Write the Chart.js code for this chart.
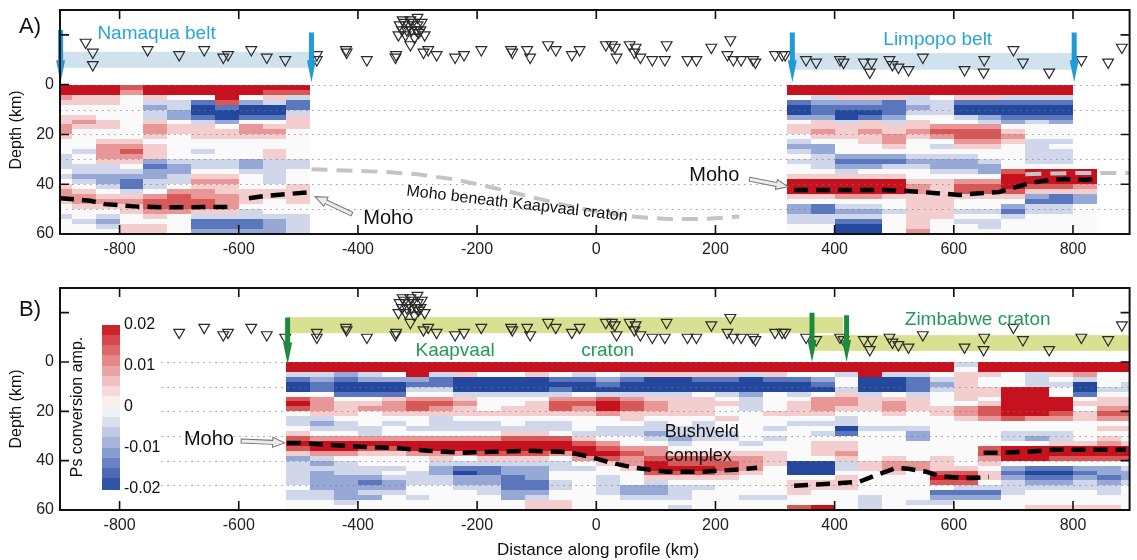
<!DOCTYPE html>
<html>
<head>
<meta charset="utf-8">
<script src="https://cdn.jsdelivr.net/npm/chart.js@4.4.1/dist/chart.umd.min.js"></script>
<style>
  body { margin: 0; background: #fff; }
  #wrap { position: relative; width: 1137px; height: 560px; }
  .panel { position: absolute; left: 0; }
</style>
</head>
<body>
<div id="wrap">
  <div class="panel" style="top:0"><canvas id="panelA" width="1137" height="266"></canvas></div>
  <div class="panel" style="top:270px"><canvas id="panelB" width="1137" height="290"></canvas></div>
</div>
<script>
const FONT = "'Liberation Sans', Arial, Helvetica, sans-serif";

const xTicks = [-800, -600, -400, -200, 0, 200, 400, 600, 800];
const yTicks = [-20, 0, 20, 40, 60];
const yLabels = [0, 20, 40, 60];
const dottedDepths = [0, 10, 20, 30, 40, 50];

const rowKm = 2;         // thickness of one depth bin (km)
const ampStep = 0.005;   // one level in the grids = 0.005 Ps amplitude

// station positions (km along profile) and where the symbol sits above the surface
const stationKm = [
  -857, -845, -845, -753, -700, -658, -626, -618, -579, -553, -522, -469, -469, -420, -419, -385, -337, -336,
  -330, -322, -315, -308, -300, -293, -326, -318, -310, -302, -295, -332, -320, -305, -298, -288, -312, -300, -325,
  -312, -290, -282, -268, -237, -222, -193, -143, -141, -116, -111, -81, -68, -41, -28,
  16, 26, 31, 34, 56, 66, 64, 74, 94, 118, 115, 153, 168, 193, 225, 220, 230, 243, 263, 267,
  300, 312, 317, 352, 369, 409, 415, 449, 462, 459, 492, 497, 507, 524, 548, 618, 651, 650, 700, 716, 760, 814, 859, 882];
const stationDepth = [
  -17, -13, -8, -14, -12, -14, -11, -12, -14, -11, -10, -12, -10, -14, -13, -10, -11, -12,
  -24, -25, -24, -25, -24, -25, -22, -22, -22, -22, -22, -20, -20, -19, -21, -20, -26, -27, -26,
  -16, -13, -14, -12, -11, -12, -14, -14, -13, -14, -11, -16, -14, -12, -14,
  -16, -16, -15, -11, -16, -15, -13, -11, -10, -16, -10, -10, -10, -15, -18, -12, -10, -10, -10, -9,
  -12, -12, -12, -10, -9, -10, -9, -9, -9, -5, -10, -8, -7, -6, -11, -6, -10, -5, -14, -9, -5, -10, -9, -15];

// A) Namaqua belt image, bin edges in km, rows every 2 km from the surface
const binsA_west = [-900, -880, -840, -800, -760, -720, -680, -640, -600, -560, -520, -480];
const ampA_west = [
  [4, 4, 4, 3, 4, 4, 4, 4, 4, 4, 4],
  [4, 4, 4, 2, 4, 4, 4, 4, 4, 3, 3],
  [2, 1, 1, 0, 1, 0, 0, 4, 0, 1, -1],
  [1, 1, 1, 0, -1, -1, -3, 3, -2, -1, -3],
  [0, 0, 0, 0, -2, -1, -4, -3, -4, -4, -3],
  [0, 0, 0, 0, -1, -2, -4, -4, -4, -4, -1],
  [1, 1, 0, 0, -1, -2, -3, -4, -3, -3, 1],
  [1, 2, 1, 0, 1, 0, -1, -2, 0, 0, 1],
  [2, 1, 1, 0, 2, 1, 1, 0, 2, 1, 1],
  [2, 0, 0, 0, 2, 1, 1, 1, 2, 2, 0],
  [1, 0, 0, 0, 1, 0, 1, 1, 1, 1, 0],
  [0, 0, 1, 1, 0, 0, 0, 0, 0, 0, 0],
  [0, 0, 2, 2, 1, 0, 0, 0, 0, 0, 0],
  [0, -1, 2, 3, 1, 0, -1, 0, 0, 1, 0],
  [-1, 0, 2, 2, 1, 0, 0, 0, 0, 1, 0],
  [-1, 0, 1, 1, -2, -1, -1, -1, -2, -1, -1],
  [-1, -1, -1, 0, -3, -2, -1, -1, -2, -1, -1],
  [0, -1, -1, -1, -2, -2, 0, 0, -1, -1, 0],
  [-1, -2, -2, -2, -2, -1, 1, 1, 0, -1, 0],
  [0, -1, -2, -3, -1, -1, 2, 2, 0, -1, 0],
  [1, 0, -1, -3, -1, 0, 1, 1, 0, 0, 1],
  [2, 1, 0, -1, 0, 2, 2, 1, 1, 1, 1],
  [2, 2, 1, 1, 2, 3, 2, 2, 1, 1, 1],
  [1, 2, 2, 2, 3, 3, 3, 2, 1, 0, 1],
  [0, 1, 1, 1, 3, 3, 3, 2, 0, 0, 0],
  [0, 0, 0, 1, 2, 2, 1, 1, -1, 0, 0],
  [-1, 0, -1, 0, 1, 0, -1, -1, -1, -1, -1],
  [0, -1, -2, 0, 0, 0, -3, -3, -3, -2, -1],
  [0, 0, -1, 1, 1, 0, -3, -3, -3, -2, -1],
  [0, 0, 0, 1, 1, 0, -2, -2, -2, -2, -1]];

// A) Limpopo belt image
const binsA_east = [320, 360, 400, 440, 480, 520, 560, 600, 640, 680, 720, 760, 800, 840];
const ampA_east = [
  [4, 4, 4, 4, 4, 4, 4, 4, 4, 4, 4, 4, null],
  [4, 4, 4, 4, 4, 4, 4, 4, 4, 4, 4, 4, null],
  [0, -1, 1, 1, 1, -1, 0, 1, 1, -1, -1, -1, null],
  [-3, -2, -2, -2, -3, -1, -1, -3, -3, -3, -3, -3, null],
  [-4, -3, -3, -3, -3, -2, -1, -4, -4, -4, -4, -4, null],
  [-4, -3, -4, -4, -3, -1, -1, -4, -4, -4, -4, -4, null],
  [-2, -2, -4, -3, -2, 0, 0, -1, -2, -3, -3, -3, null],
  [0, 1, -1, 1, -1, 1, 0, 0, -1, -2, -1, -2, null],
  [1, 1, 1, 1, 1, 1, 2, 2, 2, 0, 0, 0, null],
  [1, 2, 1, 2, 1, 2, 3, 3, 3, 1, 0, 0, null],
  [0, 1, 1, 1, 2, 1, 2, 3, 3, 2, 0, 0, null],
  [-1, 0, 0, 1, 2, 0, 0, 2, 2, 1, -1, -1, null],
  [-2, -2, 0, 0, 1, 0, -1, 1, 1, 0, -1, 0, null],
  [-1, -2, 0, 0, 0, 0, 0, 0, 0, 0, -1, -1, null],
  [0, -1, -2, -2, -2, -1, -1, -1, 0, 0, -1, -1, null],
  [-1, -1, -3, -3, -3, -2, -2, -2, -1, 0, -1, -1, null],
  [0, -1, -2, -2, -1, -1, -2, -2, -2, 0, 0, 0, null],
  [0, 0, -1, 0, 0, 0, -1, -1, -2, 3, 4, 4, 4],
  [1, 1, 1, 1, 1, 0, 0, 0, 0, 4, 4, 4, 4],
  [4, 4, 4, 4, 4, 1, 1, 2, 2, 4, 4, 4, 4],
  [4, 4, 4, 4, 4, 2, 1, 3, 3, 4, 3, 3, 2],
  [4, 4, 4, 4, 4, 2, 1, 3, 3, 3, 1, 1, 1],
  [1, 1, 2, 2, 1, 1, 1, 1, 1, 1, -2, -3, -2],
  [0, 0, 0, 0, 0, 1, 1, 0, 0, 0, -3, -3, -2],
  [-2, -3, -1, -1, 0, 1, 1, 0, 0, -2, -1, -1, 0],
  [-2, -3, -2, -2, -1, 1, 1, -1, -1, -3, -1, -1, 0],
  [-1, -1, -1, -1, 0, 1, 1, 0, 0, -1, 0, 0, 0],
  [-1, -1, -3, -3, 0, 1, 0, -1, -1, 0, 0, 0, 0],
  [0, 0, -4, -4, 0, 1, 0, 0, -1, 0, 0, 0, 0],
  [0, 0, -4, -4, 0, 2, 0, 0, 0, 0, 0, 0, 0]];

// B) Kaapvaal - Zimbabwe image
const binsB = [-520, -480, -440, -400, -360, -320, -280, -240, -200, -160, -120, -80, -40, 0, 40, 80, 120, 160,
  200, 240, 280, 320, 360, 400, 440, 480, 520, 560, 600, 640, 680, 720, 760, 800, 840, 880, 895];
const ampB = [
  [4, 4, 4, 4, 4, 4, 4, 4, 4, 4, 4, 4, 4, 4, 4, 4, 4, 4, 4, 4, 4, 4, 4, 4, 4, 4, 4, 4, -1, 4, 4, 4, 4, 4, 4, 4],
  [4, 4, 4, 4, 4, 4, 4, 4, 4, 4, 4, 4, 4, 4, 4, 4, 4, 4, 4, 4, 4, 4, 4, 4, 4, 4, 4, 4, 0, 4, 4, 4, 4, 4, 4, 4],
  [-1, -1, -2, -1, 0, 4, -1, 1, 0, 0, 1, 0, -1, 0, -1, 1, 1, 1, 1, -1, 1, 0, 0, -1, 4, -1, -1, 0, 1, 1, 0, -1, 1, 2, 0, 0],
  [-3, -2, -3, -2, -2, -2, -3, -4, -4, -4, -4, -3, -3, -2, -3, -4, -4, -3, -3, -4, -3, -3, -2, 0, -4, -4, -3, -1, 1, 0, 0, -1, 0, -1, 0, 0],
  [-4, -3, -4, -4, -4, -3, -3, -4, -4, -4, -4, -4, -4, -3, -4, -4, -4, -4, -4, -4, -4, -4, -3, 0, -4, -4, -3, -2, 1, 0, 0, -1, -1, -4, 0, -1],
  [-4, -3, -4, -4, -4, -1, -1, -4, -4, -4, -4, -3, -4, -4, -4, -4, -4, -4, -4, -4, -4, -4, -4, -1, -4, -4, -3, -1, 1, 1, 4, 4, 0, -4, -1, -1],
  [0, 0, -3, -3, -3, 0, 0, -1, -1, -1, -1, -1, 0, -1, -1, -1, -1, 0, -1, -2, 0, -1, 0, 1, -1, 0, -1, 0, 1, 1, 4, 4, 0, -3, 0, 0],
  [3, 2, 0, 0, 1, 2, 2, 1, 0, 0, 0, 2, 2, 3, 2, 1, 1, 1, 0, -1, 0, 0, 2, 2, 1, 1, 1, 0, 1, 0, 4, 4, 4, 0, 1, 1],
  [4, 2, 1, 1, 2, 3, 3, 2, 0, 0, 1, 3, 3, 4, 3, 2, 1, 1, 1, -1, 0, 1, 2, 2, 1, 2, 1, 0, 0, 1, 4, 4, 4, 1, 1, 1],
  [3, 2, 1, 2, 2, 3, 2, 1, 0, 1, 1, 3, 2, 4, 3, 2, 1, 1, 0, -1, 0, 1, 2, 1, 1, 2, 1, 1, 2, 3, 4, 4, 4, 0, 2, 2],
  [0, 1, 1, 0, 1, 1, 1, 1, 1, 1, 1, 1, 1, 2, 1, 1, 1, 1, 0, 0, 1, 1, 1, 0, 0, 1, 0, 1, 2, 3, 4, 4, 3, 1, 3, 3],
  [-1, -1, 0, 0, 0, 0, -1, 0, 0, 0, 0, 0, 0, 0, 1, 0, 0, 0, 1, 0, 0, 0, 0, -1, 0, 0, 0, 0, 1, 2, 3, 2, 2, 1, 2, 2],
  [-1, -2, -1, 0, -1, 0, -1, -1, -1, 0, -1, -1, 0, 0, 0, -1, 0, -1, 0, 0, 0, -1, -1, -1, 0, 0, 0, 0, 0, 0, 0, 0, 0, 0, 0, 0],
  [0, -1, -1, -1, 0, -1, -1, -1, -1, -1, -1, -1, 0, -1, -1, -1, -1, -1, 0, 0, -1, 0, 0, -4, -1, -1, -1, 0, 0, 0, 0, 0, 0, 0, 1, 1],
  [1, 0, 0, -1, 0, 0, 0, 0, 0, 1, 1, 0, -1, -1, -1, -2, -1, -1, -1, 0, 0, 0, -1, -3, 0, 0, -2, 0, 0, 0, -1, -1, -1, 0, 0, 0],
  [3, 2, 2, 2, 2, 2, 2, 2, 2, 3, 3, 3, 1, 0, 0, -1, -2, -1, -1, 0, -1, 0, 0, 0, 0, 0, -2, 0, 0, 0, -1, -2, -1, 0, 1, 0],
  [4, 4, 4, 4, 4, 4, 4, 4, 4, 4, 4, 4, 3, 2, 0, 0, -1, 0, 0, -1, 0, 0, 1, 1, 0, 0, 0, 0, 0, 0, 0, 0, 1, 1, 2, 1],
  [3, 4, 4, 3, 3, 4, 4, 4, 4, 4, 4, 4, 4, 3, 2, 2, 0, 0, 0, 0, 0, 0, 1, 1, 0, 0, 0, 0, 0, 3, 4, 4, 4, 4, 4, 4],
  [1, 2, 2, 1, 1, 2, 2, 2, 3, 3, 3, 2, 4, 4, 3, 2, 1, 1, 1, 1, 1, 0, 1, 2, 0, 0, 0, 0, 0, 3, 4, 4, 4, 4, 4, 4],
  [-2, -1, 0, 0, 0, 0, 1, 0, 1, 1, 1, 0, 2, 3, 2, 3, 3, 3, 2, 2, 1, 0, 0, 1, 0, 1, 0, 1, 0, 2, 4, 4, 3, 3, 3, 3],
  [-1, -2, -1, 0, 0, 0, -1, -1, -1, -1, -1, -1, 0, 1, 2, 4, 3, 3, 3, 2, 1, -4, -4, -1, 1, 2, 2, 1, 0, 1, 0, 0, 0, 0, 0, 0],
  [-1, -1, -1, -1, -1, 0, -2, -3, -3, -2, -2, -1, -1, 0, 1, 4, 4, 4, 3, 2, 0, -4, -4, -1, 1, 2, 2, 1, 1, 0, -2, -3, -3, -2, -2, -1],
  [-1, -2, -1, -1, 0, -1, -2, -4, -3, -2, -2, 0, 0, 0, 0, 3, 3, 3, 2, 1, 0, -4, -4, 0, 0, 1, 0, 3, 3, 1, -3, -4, -4, -3, -2, -2],
  [-1, -2, -2, -2, -1, -1, -1, -2, -2, -3, -2, 0, 0, -1, 0, 1, 1, 1, 1, 0, 0, 0, 0, 1, 0, 0, 0, 4, 4, 1, -2, -3, -3, -2, -3, -2],
  [-1, -2, -2, -3, -2, -1, -1, -2, -2, -3, -3, -1, 0, -1, 0, -1, 0, 0, 0, 0, 0, 1, 1, 1, 0, 0, 0, 3, 3, 0, -1, -2, -2, -1, -2, -1],
  [0, -2, -2, -2, -2, 0, 0, -1, -1, -3, -3, -1, 0, -1, -2, -2, -1, -1, 0, 0, 0, 1, 1, 1, 0, 0, 0, 0, -1, -1, -1, -1, -1, -1, -1, 0],
  [-1, -1, -2, -1, -1, 0, 0, 0, -1, -2, -2, 0, 0, -1, -2, -2, -1, 0, 0, 0, 0, 1, 0, 0, 0, 0, 0, -3, -3, -3, -1, 0, 0, 0, -1, 0],
  [-1, -1, -2, -2, 0, -1, 0, 0, 0, -2, -1, 0, 0, 0, -1, -1, -1, 0, 0, -1, -1, 0, 0, 0, -1, 0, 0, -2, -2, -2, 0, 0, 0, 0, 0, 0],
  [0, 0, -1, 0, 0, 0, 0, 0, 0, 0, 1, 1, 0, 0, 0, 0, 0, 0, 0, 0, 0, 0, 0, 0, -1, 0, -1, -1, 0, 0, 0, 0, 0, 0, 0, 0],
  [0, 0, 0, 0, 0, 0, 0, 0, 0, 0, 1, 1, 0, 0, 0, 0, -1, 0, 0, 0, 0, 3, 4, 0, -1, 0, 0, 0, 0, 0, 0, 1, 1, 1, 1, 0]];

// picked Moho (null splits the line)
const mohoA_km    = [-900, -850, -825, -770, -713, -658, -611, null, -583, -551, -516, -479,
                     null, 332, 371, 426, 483, 521, 566, 610, 650, 676, 700, 727, 760, 788, 822, 838];
const mohoA_depth = [45.6, 46.6, 48.0, 49.0, 49.3, 49.2, 49.1, null, 45.6, 44.6, 43.9, 43.2,
                     null, 42.3, 42.3, 42.3, 42.3, 42.7, 43.5, 44.3, 43.5, 43.1, 41.5, 39.5, 38.3, 37.9, 38.3, 37.9];
const kaapvaalMohoKm    = [-478, -420, -360, -300, -240, -180, -120, -60, 0, 60, 120, 180, 240, null, 720, 800, 895];
const kaapvaalMohoDepth = [34, 34.5, 35, 36, 38, 41, 44.5, 48, 51, 53, 54, 54, 53, null, 36, 35.5, 35.5];
const mohoB_km    = [-519, -494, -449, -394, -337, -282, -226, -170, -115, -59, -43, -9, 19, 64, 120, 175, 232, 270,
                     null, 332, 359, 416, 441, 471, 504, 524, 554, 576, 609, 632, 659,
                     null, 650, 677, 722, 767, 822, 889];
const mohoB_depth = [32.8, 32.8, 33.6, 34.4, 34.8, 36, 36.8, 36.4, 36, 36.4, 36.8, 38.5, 40.5, 42.9, 44.5, 44.5, 43.7, 42.9,
                     null, 50.2, 49.8, 49, 48.6, 45.7, 42.9, 43.3, 44.5, 46.2, 47, 47, 46.6,
                     null, 36.8, 36.8, 36.4, 35.6, 35.6, 35.6];

// belt / craton margins: arrow km, top and tip depth
const beltArrowsA = [[-899, -22, -1], [-478, -21, -1], [329, -21, -1], [802, -21, -1]];
const cratonArrowsB = [[-518, -18, 1], [362, -20, 0], [420, -19, 0]];
// shaded station rows: km from, km to, depth from, depth to
const bandsA = [[-900, -478, -13.2, -6.8], [330, 800, -12.7, -6]];
const bandsB = [[-518, 414, -18.2, -11.7], [365, 895, -10.9, -4.5]];

const colorbarTicks = [0.02, 0.01, 0, -0.01, -0.02];

const RED_STOPS  = [[250, 250, 250], [244, 206, 206], [232, 150, 150], [216, 88, 88], [198, 18, 30]];
const BLUE_STOPS = [[250, 250, 250], [208, 215, 235], [150, 168, 213], [90, 118, 188], [36, 72, 158]];

function ampColor(a) {
  const t = Math.max(-1, Math.min(1, a / 0.02));
  const stops = t >= 0 ? RED_STOPS : BLUE_STOPS;
  const f = Math.abs(t) * 4;
  const i = Math.min(3, Math.floor(f));
  const w = f - i;
  const c = stops[i].map((v, k) => Math.round(v + (stops[i + 1][k] - v) * w));
  return 'rgb(' + c.join(',') + ')';
}

function drawGrid(chart, edges, grid) {
  const { ctx, scales: { x, y } } = chart;
  grid.forEach((row, r) => {
    const y0 = Math.round(y.getPixelForValue(r * rowKm));
    const y1 = Math.round(y.getPixelForValue((r + 1) * rowKm));
    row.forEach((v, c) => {
      if (v === null) return;
      const x0 = Math.round(x.getPixelForValue(edges[c]));
      const x1 = Math.round(x.getPixelForValue(edges[c + 1]));
      ctx.fillStyle = ampColor(v * ampStep);
      ctx.fillRect(x0, y0, x1 - x0, y1 - y0);
    });
  });
}

function drawDownArrow(ctx, x, yTop, yTip, color) {
  const shaftW = 5, headW = 9, headL = 22;
  ctx.fillStyle = color;
  ctx.beginPath();
  ctx.moveTo(x - shaftW / 2, yTop);
  ctx.lineTo(x + shaftW / 2, yTop);
  ctx.lineTo(x + shaftW / 2, yTip - headL);
  ctx.lineTo(x + headW / 2, yTip - headL);
  ctx.lineTo(x, yTip);
  ctx.lineTo(x - headW / 2, yTip - headL);
  ctx.lineTo(x - shaftW / 2, yTip - headL);
  ctx.closePath();
  ctx.fill();
}

// thin hollow grey arrow from a label to the Moho
function drawPointer(ctx, x0, y0, x1, y1) {
  const ang = Math.atan2(y1 - y0, x1 - x0);
  const len = Math.hypot(x1 - x0, y1 - y0);
  const hw = 2, headW = 5, headL = 12;
  ctx.save();
  ctx.translate(x0, y0);
  ctx.rotate(ang);
  ctx.beginPath();
  ctx.moveTo(0, -hw);
  ctx.lineTo(len - headL, -hw);
  ctx.lineTo(len - headL, -headW);
  ctx.lineTo(len, 0);
  ctx.lineTo(len - headL, headW);
  ctx.lineTo(len - headL, hw);
  ctx.lineTo(0, hw);
  ctx.closePath();
  ctx.fillStyle = '#ececec';
  ctx.fill();
  ctx.strokeStyle = '#777';
  ctx.lineWidth = 1;
  ctx.stroke();
  ctx.restore();
}

function text(ctx, str, x, y, size, color, align, rot) {
  ctx.save();
  ctx.translate(x, y);
  if (rot) ctx.rotate(rot);
  ctx.font = size + 'px ' + FONT;
  ctx.fillStyle = color;
  ctx.textAlign = align || 'center';
  ctx.textBaseline = 'middle';
  ctx.fillText(str, 0, 0);
  ctx.restore();
}

function toPoints(km, depth) {
  return km.map((k, i) => ({ x: k, y: depth[i] }));
}

function panelPlugin(cfg) {
  return {
    id: 'panel' + cfg.name,
    beforeDatasetsDraw(chart) {
      const { ctx, chartArea: a, scales: { x, y } } = chart;
      ctx.save();
      ctx.beginPath();
      ctx.rect(a.left, a.top, a.right - a.left, a.bottom - a.top);
      ctx.clip();
      cfg.bands.forEach(([k0, k1, d0, d1]) => {
        ctx.fillStyle = cfg.bandColor;
        ctx.fillRect(x.getPixelForValue(k0), y.getPixelForValue(d0),
          x.getPixelForValue(k1) - x.getPixelForValue(k0), y.getPixelForValue(d1) - y.getPixelForValue(d0));
      });
      cfg.grids.forEach(([edges, grid]) => drawGrid(chart, edges, grid));
      ctx.strokeStyle = 'rgba(120,120,120,0.75)';
      ctx.lineWidth = 1;
      ctx.setLineDash([1.5, 4.5]);
      dottedDepths.forEach(d => {
        const py = Math.round(y.getPixelForValue(d)) + 0.5;
        ctx.beginPath();
        ctx.moveTo(x.getPixelForValue(cfg.dotFrom), py);
        ctx.lineTo(a.right, py);
        ctx.stroke();
      });
      ctx.restore();
    },
    afterDatasetsDraw(chart) {
      const { ctx, chartArea: a, scales: { x, y } } = chart;
      cfg.arrows.forEach(([k, d0, d1]) =>
        drawDownArrow(ctx, x.getPixelForValue(k), y.getPixelForValue(d0), y.getPixelForValue(d1), cfg.arrowColor));
      cfg.pointers.forEach(([k0, d0, k1, d1]) =>
        drawPointer(ctx, x.getPixelForValue(k0), y.getPixelForValue(d0), x.getPixelForValue(k1), y.getPixelForValue(d1)));
      cfg.labels.forEach(l =>
        text(ctx, l.t, x.getPixelForValue(l.km), y.getPixelForValue(l.d), l.size, l.color, 'center', l.rot));

      // frame with inward ticks on all four sides
      ctx.save();
      ctx.strokeStyle = '#111';
      ctx.lineWidth = 2;
      ctx.strokeRect(a.left, a.top, a.right - a.left, a.bottom - a.top);
      ctx.lineWidth = 1.6;
      ctx.beginPath();
      xTicks.forEach(v => {
        const px = x.getPixelForValue(v);
        ctx.moveTo(px, a.top); ctx.lineTo(px, a.top + 9);
        ctx.moveTo(px, a.bottom); ctx.lineTo(px, a.bottom - 9);
      });
      yTicks.forEach(v => {
        const py = y.getPixelForValue(v);
        ctx.moveTo(a.left, py); ctx.lineTo(a.left + 9, py);
        ctx.moveTo(a.right, py); ctx.lineTo(a.right - 9, py);
      });
      ctx.stroke();
      ctx.restore();

      // tick labels
      xTicks.forEach(v => text(ctx, String(v), x.getPixelForValue(v), a.bottom + 16, 16, '#222'));
      yLabels.forEach(v => text(ctx, String(v), a.left - 6, y.getPixelForValue(v), 16, '#222', 'right'));

      cfg.extras(chart);
    }
  };
}

function makePanel(id, cfg) {
  const datasets = [
    { data: toPoints(cfg.mohoKm, cfg.mohoDepth), showLine: true, borderColor: '#000', borderWidth: 4.5,
      borderDash: [14, 8], pointRadius: 0, spanGaps: false },
    { data: toPoints(cfg.stKm, cfg.stDepth), pointStyle: 'triangle', rotation: 180, radius: 6.2,
      backgroundColor: 'rgba(0,0,0,0)', borderColor: '#2a2a2a', borderWidth: 1.2 }
  ];
  if (cfg.grayKm) {
    datasets.push({ data: toPoints(cfg.grayKm, cfg.grayDepth), showLine: true, borderColor: '#c4c4c4',
      borderWidth: 4, borderDash: [16, 9], pointRadius: 0, spanGaps: false });
  }
  return new Chart(document.getElementById(id), {
    type: 'scatter',
    data: { datasets },
    options: {
      responsive: false,
      animation: false,
      events: [],
      layout: { padding: { top: cfg.padTop, right: 4, left: 0, bottom: 0 } },
      plugins: { legend: { display: false }, tooltip: { enabled: false } },
      scales: {
        x: {
          type: 'linear', min: -900, max: 895,
          grid: { display: false }, border: { display: false },
          afterBuildTicks: s => { s.ticks = xTicks.map(v => ({ value: v })); },
          afterFit: s => { s.height = cfg.xAxisH; },
          ticks: { display: false }
        },
        y: {
          type: 'linear', reverse: true, min: -30, max: 60,
          grid: { display: false }, border: { display: false },
          afterBuildTicks: s => { s.ticks = yTicks.map(v => ({ value: v })); },
          afterFit: s => { s.width = 60; },
          ticks: { display: false }
        }
      }
    },
    plugins: [panelPlugin(cfg)]
  });
}

const panelA = makePanel('panelA', {
  name: 'A', padTop: 10, xAxisH: 32,
  stKm: stationKm, stDepth: stationDepth,
  mohoKm: mohoA_km, mohoDepth: mohoA_depth,
  grayKm: kaapvaalMohoKm, grayDepth: kaapvaalMohoDepth,
  bands: bandsA, bandColor: 'rgb(207,226,238)',
  grids: [[binsA_west, ampA_west], [binsA_east, ampA_east]],
  dotFrom: -900,
  arrows: beltArrowsA, arrowColor: '#1f9bd7',
  pointers: [[-410, 52, -472, 45], [257, 38, 322, 41]],
  labels: [
    { t: 'Namaqua belt', km: -738, d: -20.4, size: 19, color: '#2aa5da' },
    { t: 'Limpopo belt', km: 573, d: -18, size: 19, color: '#2aa5da' },
    { t: 'Moho', km: -349, d: 53.6, size: 20, color: '#111' },
    { t: 'Moho', km: 198, d: 36.3, size: 20, color: '#111' },
    { t: 'Moho beneath Kaapvaal craton', km: -133, d: 47.9, size: 16, color: '#111', rot: 0.115 }
  ],
  extras(chart) {
    const ctx = chart.ctx, a = chart.chartArea;
    text(ctx, 'A)', 30, 27, 22, '#111');
    text(ctx, 'Depth (km)', 17, (a.top + a.bottom) / 2 + 8, 16, '#111', 'center', -Math.PI / 2);
  }
});

const panelB = makePanel('panelB', {
  name: 'B', padTop: 18, xAxisH: 50,
  stKm: stationKm.filter(k => k > -720), stDepth: stationDepth.filter((d, i) => stationKm[i] > -720),
  mohoKm: mohoB_km, mohoDepth: mohoB_depth,
  bands: bandsB, bandColor: 'rgba(205,214,110,0.75)',
  grids: [[binsB, ampB]],
  dotFrom: -730,
  arrows: cratonArrowsB, arrowColor: '#1d8a3e',
  pointers: [[-596, 32, -523, 32.8]],
  labels: [
    { t: 'Kaapvaal', km: -237, d: -4.5, size: 19, color: '#24995a' },
    { t: 'craton', km: 19, d: -4.5, size: 19, color: '#24995a' },
    { t: 'Zimbabwe craton', km: 640, d: -17, size: 19, color: '#24995a' },
    { t: 'Moho', km: -650, d: 31.6, size: 20, color: '#111' },
    { t: 'Bushveld', km: 177, d: 28.3, size: 18, color: '#111' },
    { t: 'complex', km: 171, d: 38.1, size: 18, color: '#111' }
  ],
  extras(chart) {
    const ctx = chart.ctx, a = chart.chartArea;
    text(ctx, 'B)', 30, 40, 22, '#111');
    text(ctx, 'Depth (km)', 17, (a.top + a.bottom) / 2 + 10, 16, '#111', 'center', -Math.PI / 2);
    text(ctx, 'Distance along profile (km)', 598, 280, 17, '#111');
    // colour scale
    const cbX = 102, cbW = 18, cbTop = 55, cbBot = 219, steps = 16;
    for (let i = 0; i < steps; i++) {
      const v = 0.02 - (i + 0.5) * 0.04 / steps;
      const y0 = cbTop + (cbBot - cbTop) * i / steps;
      ctx.fillStyle = ampColor(v);
      ctx.fillRect(cbX, Math.floor(y0), cbW, Math.ceil((cbBot - cbTop) / steps) + 1);
    }
    colorbarTicks.forEach(v => {
      const py = cbTop + (0.02 - v) / 0.04 * (cbBot - cbTop);
      text(ctx, String(v), cbX + cbW + 4, py, 16, '#111', 'left');
    });
    text(ctx, 'Ps conversion amp.', 78, (cbTop + cbBot) / 2, 16, '#111', 'center', -Math.PI / 2);
  }
});
</script>
</body>
</html>
